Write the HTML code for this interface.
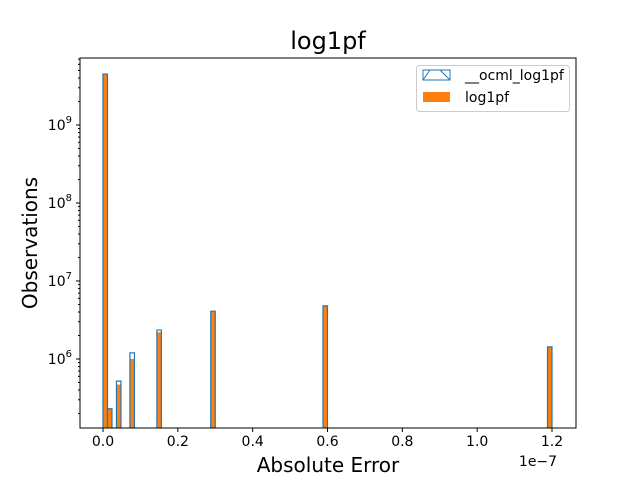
<!DOCTYPE html>
<html><head><meta charset="utf-8"><style>
body{margin:0;background:#fff;}
svg text{font-family:"DejaVu Sans","Liberation Sans",sans-serif;}
</style></head><body>
<svg id="chart" width="640" height="480" viewBox="0 0 640 480">
<rect width="640" height="480" fill="#fff"/>
<text x="328" y="49" font-size="24" text-anchor="middle">log1pf</text>
<g id="bars"></g>
<g id="axes"></g>
<text x="328" y="472" font-size="20" text-anchor="middle">Absolute Error</text>
<text transform="translate(37,243) rotate(-90)" font-size="20" text-anchor="middle">Observations</text>
<text x="538" y="466" font-size="14" text-anchor="middle">1e−7</text>
<g>
<rect x="416.5" y="65.5" width="153" height="46" rx="3" fill="#fff" stroke="#ccc"/>
<g>
<rect x="423" y="70" width="27" height="10" fill="none" stroke="#1f77b4"/>
<path d="M423,80 L430,70 M440,70 L450,80" stroke="#1f77b4" fill="none"/>
<text x="465" y="80" font-size="14">__ocml_log1pf</text></g>
<g>
<rect x="423" y="92" width="27" height="10" fill="#ff7f0e"/>
<text x="465" y="102" font-size="14">log1pf</text></g>
</g>
</svg>
<script>
const binStarts=[0,0.012,0.036,0.072,0.144,0.288,0.588,1.188];
const binWidth=0.012;
const ocmlCounts=[4.5e9,2.3e5,5.2e5,1.2e6,2.35e6,4.1e6,4.8e6,1.43e6];
const log1pfCounts=[4.5e9,2.3e5,4.7e5,1.0e6,2.2e6,4.1e6,4.8e6,1.43e6];
const xTicks=[0,0.2,0.4,0.6,0.8,1.0,1.2];
const xTickLabels=["0.0","0.2","0.4","0.6","0.8","1.0","1.2"];
const yExps=[6,7,8,9];

const L=80,R=576,T=58,B=428;
const xs=v=>103+v*(552-103)/1.2;
const ys=v=>359-(Math.log10(v)-6)*78;
const NS="http://www.w3.org/2000/svg";
function mk(tag,attrs,parent){const e=document.createElementNS(NS,tag);for(const k in attrs)e.setAttribute(k,attrs[k]);parent.appendChild(e);return e;}
const bars=document.getElementById('bars'),axes=document.getElementById('axes');
binStarts.forEach((s,i)=>{
  const x0=xs(s),x1=xs(s+binWidth);
  const o=mk('rect',{x:x0,y:ys(log1pfCounts[i]),width:x1-x0,height:B-ys(log1pfCounts[i]),fill:'#ff7f0e'},bars);
  
  
  const b=mk('path',{d:`M${x0},${B} V${ys(ocmlCounts[i])} H${x1} V${B}`,fill:'none',stroke:'#1f77b4','stroke-width':1.2},bars);
  
  
});
mk('rect',{x:L,y:T,width:R-L,height:B-T,fill:'none',stroke:'#000','stroke-width':1},axes);
xTicks.forEach((v,i)=>{
  const x=xs(v);
  mk('line',{x1:x,x2:x,y1:B,y2:B+4,stroke:'#000'},axes);
  const t=mk('text',{x:x,y:B+18,'font-size':14,'text-anchor':'middle'},axes);
  t.textContent=xTickLabels[i];
  
  
});
for(let e=5;e<=9;e++){
  for(let m=1;m<10;m++){
    const y=ys(m*Math.pow(10,e));
    if(y<T||y>B)continue;
    mk('line',{x1:L-(m==1?4:2),x2:L,y1:y,y2:y,stroke:'#000'},axes);
  }
}
yExps.forEach(e=>{
  const y=ys(Math.pow(10,e));
  const t=mk('text',{x:L-8,y:y+5,'font-size':14,'text-anchor':'end'},axes);
  
  
  t.innerHTML='10<tspan dy="-7" font-size="10">'+e+'</tspan>';
});
</script>
</body></html>
